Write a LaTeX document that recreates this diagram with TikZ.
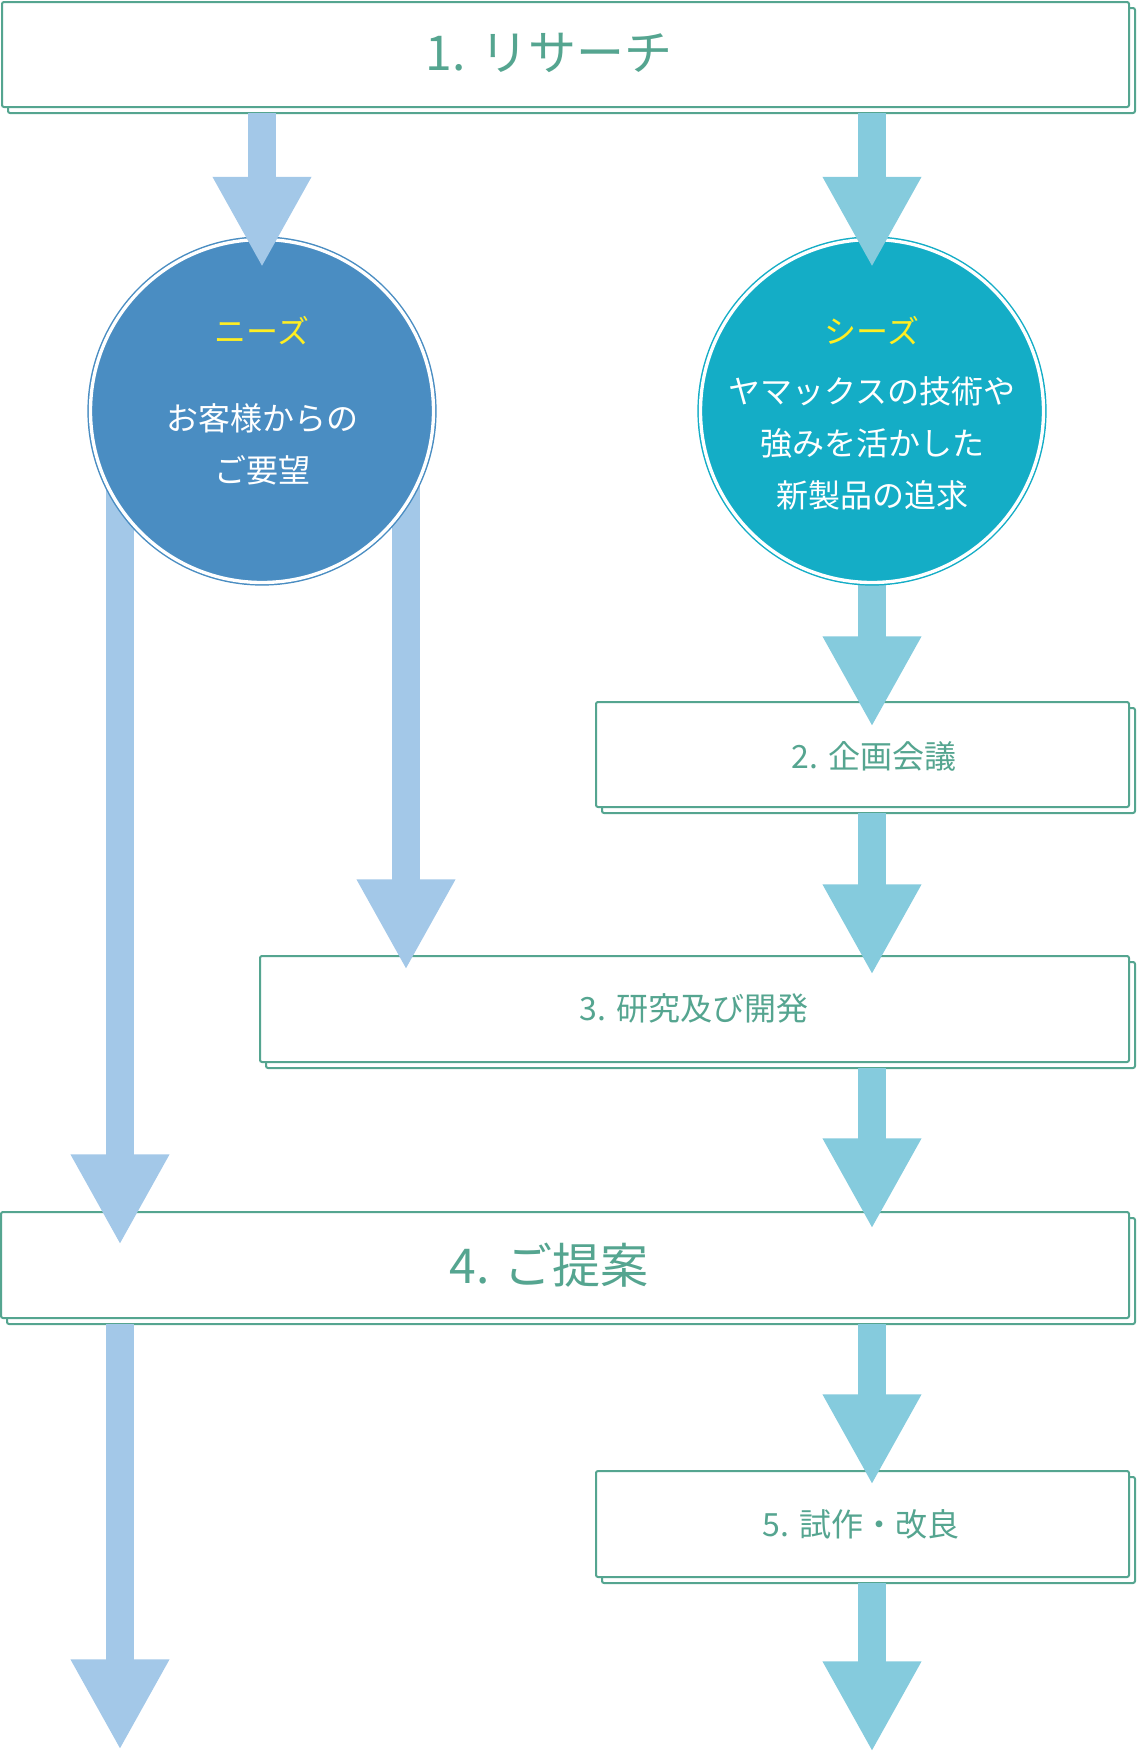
\documentclass[tikz,border=0pt]{standalone}
\usepackage{fontspec}
\setmainfont{Noto Sans CJK JP}
\usetikzlibrary{arrows.meta,calc}
\definecolor{grn}{HTML}{55A590}
\definecolor{lblue}{HTML}{A3C8E8}
\definecolor{lcyan}{HTML}{85CBDD}
\definecolor{needsc}{HTML}{4A8DC2}
\definecolor{seedsc}{HTML}{14ADC6}
\definecolor{ylw}{HTML}{FFEE22}
\pgfdeclarelayer{bg}
\pgfdeclarelayer{circ}
\pgfdeclarelayer{top}
\pgfsetlayers{bg,main,circ,top}
\def\u{0.75pt}
\begin{document}
\begin{tikzpicture}[x=0.75pt,y=-0.75pt,
  box/.style={draw=grn, line width=1.5pt, fill=white, rounded corners=1.5pt, inner sep=0pt, outer sep=0pt},
  shadowbox/.style={draw=grn, line width=1.5pt, fill=white, rounded corners=1.5pt},
  bigtxt/.style={text=grn, font=\fontsize{36pt}{40pt}\selectfont, inner sep=0pt},
  midtxt/.style={text=grn, font=\fontsize{24pt}{28pt}\selectfont, inner sep=0pt},
  circnode/.style={circle, minimum size=343*\u, inner sep=0pt, outer sep=0pt, line width=1.1pt, double=white, double distance=2.5pt},
  ctitle/.style={text=ylw, font=\fontsize{24pt}{28pt}\selectfont, inner sep=0pt},
  cbody/.style={text=white, font=\fontsize{24pt}{39pt}\selectfont, align=center, inner sep=0pt},
  arrL/.style={draw=lblue, line width=21pt, -{Triangle[width=69pt,length=68pt]}},
  arrC/.style={draw=lcyan, line width=21pt, -{Triangle[width=69pt,length=68pt]}}
]
\useasboundingbox (0,0) rectangle (1136,1753);

% boxes
\node[box, minimum width=1127*\u, minimum height=105*\u] (b1) at (565.5,54.5) {};
\node[box, minimum width=533*\u, minimum height=105*\u] (b2) at (862.5,754.5) {};
\node[box, minimum width=869*\u, minimum height=106*\u] (b3) at (694.5,1009) {};
\node[box, minimum width=1128*\u, minimum height=106*\u] (b4) at (565,1265) {};
\node[box, minimum width=533*\u, minimum height=106*\u] (b5) at (862.5,1524) {};

\begin{pgfonlayer}{bg}
\foreach \b in {b1,b2,b3,b4,b5}
  \draw[shadowbox] ($(\b.north west)+(6,6)$) rectangle ($(\b.south east)+(6,6)$);
\end{pgfonlayer}

% box labels
\node[bigtxt] (t1) at (549,53) {1. リサーチ};
\node[midtxt] (t2) at (874,756) {2. 企画会議};
\node[midtxt] (t3) at (694,1008) {3. 研究及び開発};
\node[bigtxt] (t4) at (549,1265) {4. ご提案};
\node[midtxt] (t5) at (861,1524) {5. 試作・改良};

% circles
\begin{pgfonlayer}{circ}
\node[circnode, draw=needsc, fill=needsc] (c1) at (262,411) {};
\node[circnode, draw=seedsc, fill=seedsc] (c2) at (872,411) {};
\end{pgfonlayer}
\begin{pgfonlayer}{top}
\node[ctitle] (n1) at (262,331) {ニーズ};
\node[cbody] (n2) at (262,444) {お客様からの\\ご要望};
\node[ctitle] (s1) at (872,331) {シーズ};
\node[cbody] (s2) at (872,443) {ヤマックスの技術や\\強みを活かした\\新製品の追求};
\end{pgfonlayer}

% free ends
\coordinate (e1) at (120,1750);
\coordinate (e2) at (872,1752);

% top arrows over circles
\begin{pgfonlayer}{top}
\draw[arrL] ($(b1.south -| c1.north)+(0,6)$) -- ($(c1.north)+(0,28)$);
\draw[arrC] ($(b1.south -| c2.north)+(0,6)$) -- ($(c2.north)+(0,28)$);
\end{pgfonlayer}

% arrows from circles (start under circles)
\draw[arrC] (c2.center) -- ($(b2.north -| c2.center)+(0,25)$);
\draw[arrL] ($(c1.center)+(144,0)$) -- ($(c1.center |- b3.north)+(144,14)$);
\draw[arrL] ($(c1.center)+(-142,0)$) -- ($(c1.center |- b4.north)+(-142,33)$);

% chain arrows
\draw[arrC] ($(b2.south -| c2.center)+(0,6)$) -- ($(b3.north -| c2.center)+(0,19)$);
\draw[arrC] ($(b3.south -| c2.center)+(0,6)$) -- ($(b4.north -| c2.center)+(0,17)$);
\draw[arrC] ($(b4.south -| c2.center)+(0,6)$) -- ($(b5.north -| c2.center)+(0,14)$);
\draw[arrC] ($(b5.south -| c2.center)+(0,6)$) -- (e2);
\draw[arrL] ($(c1.center |- b4.south)+(-142,6)$) -- (e1);
\end{tikzpicture}
\end{document}
